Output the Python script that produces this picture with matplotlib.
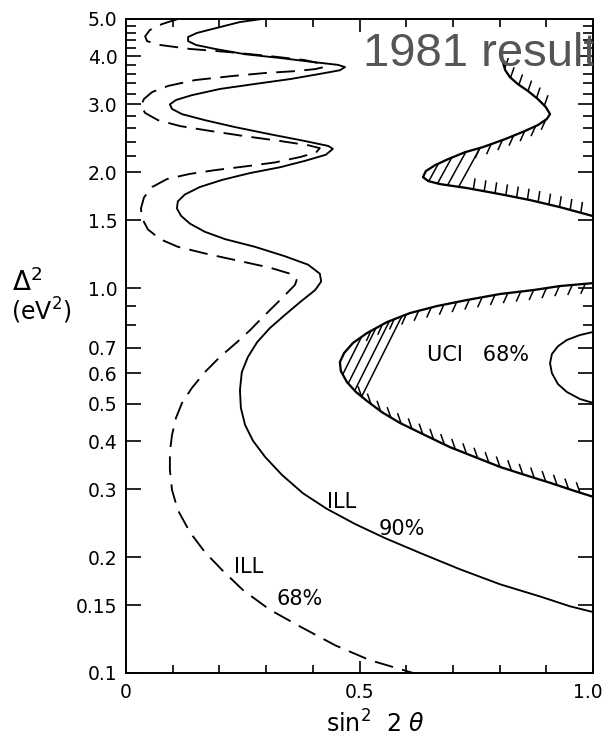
import matplotlib.pyplot as plt
import numpy as np
from matplotlib.path import Path
from matplotlib.patches import PathPatch
from matplotlib.ticker import FixedLocator, NullFormatter
from matplotlib.transforms import offset_copy

# ILL 90% contour (solid)
ill90_x = [0.291, 0.244, 0.191, 0.152, 0.133, 0.133, 0.150, 0.191, 0.255, 0.330,
           0.405, 0.454, 0.469, 0.458, 0.415, 0.351, 0.276, 0.201, 0.141, 0.107,
           0.094, 0.0985, 0.120, 0.169, 0.233, 0.308, 0.383, 0.433, 0.443, 0.428,
           0.383, 0.330, 0.266, 0.206, 0.158, 0.126, 0.111, 0.109, 0.118, 0.137,
           0.169, 0.212, 0.276, 0.340, 0.390, 0.415, 0.418, 0.405, 0.373, 0.340,
           0.308, 0.281, 0.261, 0.248, 0.244, 0.246, 0.255, 0.272, 0.298, 0.334,
           0.379, 0.430, 0.490, 0.555, 0.630, 0.715, 0.801, 0.887, 0.951, 1.0]
ill90_y = [5.0, 4.91, 4.73, 4.60, 4.49, 4.38, 4.28, 4.18, 4.05, 3.96,
           3.86, 3.80, 3.75, 3.68, 3.60, 3.49, 3.39, 3.29, 3.17, 3.08,
           3.00, 2.92, 2.83, 2.73, 2.62, 2.51, 2.41, 2.34, 2.30, 2.22,
           2.14, 2.06, 1.99, 1.91, 1.83, 1.75, 1.68, 1.61, 1.54, 1.47,
           1.40, 1.34, 1.28, 1.21, 1.15, 1.09, 1.04, 0.988, 0.920, 0.851,
           0.787, 0.724, 0.662, 0.605, 0.543, 0.488, 0.441, 0.401, 0.364, 0.327,
           0.293, 0.267, 0.244, 0.224, 0.205, 0.186, 0.170, 0.158, 0.149, 0.144]

# ILL 68% contour (dashed)
ill68_x = [0.111, 0.077, 0.051, 0.041, 0.045, 0.073, 0.137, 0.223, 0.308, 0.383,
           0.420, 0.424, 0.405, 0.362, 0.298, 0.223, 0.148, 0.090, 0.056, 0.0385,
           0.032, 0.041, 0.0685, 0.116, 0.180, 0.255, 0.330, 0.390, 0.415, 0.407,
           0.373, 0.319, 0.255, 0.191, 0.137, 0.088, 0.056, 0.0385, 0.032, 0.034,
           0.047, 0.073, 0.111, 0.169, 0.244, 0.308, 0.351, 0.366, 0.362, 0.345,
           0.319, 0.291, 0.266, 0.238, 0.201, 0.169, 0.141, 0.120, 0.107, 0.0985,
           0.094, 0.094, 0.0985, 0.111, 0.137, 0.169, 0.206, 0.251, 0.308, 0.373,
           0.448, 0.522, 0.615]
ill68_y = [5.0, 4.85, 4.68, 4.51, 4.38, 4.28, 4.18, 4.10, 4.005, 3.91,
           3.82, 3.75, 3.705, 3.66, 3.62, 3.55, 3.47, 3.35, 3.23, 3.10,
           2.97, 2.85, 2.73, 2.635, 2.56, 2.48, 2.41, 2.35, 2.31, 2.25,
           2.19, 2.12, 2.07, 2.025, 1.98, 1.92, 1.83, 1.72, 1.61, 1.52,
           1.42, 1.34, 1.28, 1.23, 1.175, 1.13, 1.09, 1.055, 1.02, 0.971,
           0.903, 0.836, 0.778, 0.724, 0.662, 0.605, 0.550, 0.503, 0.460, 0.415,
           0.375, 0.337, 0.299, 0.265, 0.232, 0.206, 0.185, 0.164, 0.146, 0.132,
           0.118, 0.108, 0.1]

# UCI excluded region, lower island (hatched boundary)
uci_low_x = [1.0, 0.929, 0.872, 0.801, 0.730, 0.666, 0.608, 0.559, 0.516, 0.486,
             0.467, 0.458, 0.460, 0.473, 0.4925, 0.516, 0.548, 0.587, 0.640, 0.694,
             0.747, 0.801, 0.854, 0.908, 0.961, 1.0]
uci_low_y = [1.030, 1.012, 0.988, 0.965, 0.931, 0.898, 0.861, 0.816, 0.764, 0.720,
             0.678, 0.642, 0.609, 0.570, 0.537, 0.509, 0.476, 0.446, 0.415, 0.386,
             0.364, 0.343, 0.327, 0.312, 0.297, 0.287]
LOW_TIP = 11

# UCI 68% allowed region
uci68_x = [1.0, 0.972, 0.944, 0.925, 0.912, 0.908, 0.912, 0.925, 0.944, 0.972, 1.0]
uci68_y = [0.769, 0.755, 0.733, 0.706, 0.674, 0.638, 0.601, 0.563, 0.537, 0.515, 0.503]

# UCI excluded region, upper band (hatched boundary)
uci_up_x = [0.807, 0.812, 0.822, 0.839, 0.861, 0.882, 0.899, 0.908, 0.901, 0.882,
            0.854, 0.812, 0.764, 0.726, 0.690, 0.662, 0.642, 0.636, 0.647, 0.672,
            0.730, 0.801, 0.865, 0.929, 1.0]
uci_up_y = [3.864, 3.683, 3.532, 3.388, 3.249, 3.097, 2.952, 2.830, 2.748, 2.651,
            2.558, 2.438, 2.323, 2.254, 2.163, 2.086, 2.013, 1.942, 1.897, 1.863,
            1.819, 1.754, 1.693, 1.623, 1.538]
UP_RTIP, UP_LTIP = 7, 17

ytick_vals = [0.1, 0.15, 0.2, 0.3, 0.4, 0.5, 0.6, 0.7, 1.0, 1.5, 2.0, 3.0, 4.0, 5.0]
ytick_labels = ['0.1', '0.15', '0.2', '0.3', '0.4', '0.5', '0.6', '0.7', '1.0',
                '1.5', '2.0', '3.0', '4.0', '5.0']
yminor_vals = [0.8, 0.9, 2.2, 2.4, 2.6, 2.8, 3.2, 3.4, 3.6, 3.8, 4.2, 4.4, 4.6, 4.8]
xtick_vals = [0.0, 0.5, 1.0]
xtick_labels = ['0', '0.5', '1.0']
xminor_vals = [0.1, 0.2, 0.3, 0.4, 0.6, 0.7, 0.8, 0.9]

LW = 1.35
plt.rcParams['font.family'] = 'DejaVu Sans'

fig = plt.figure(figsize=(6.06, 7.44), dpi=100)
W, H = 606.0, 744.0
ax = fig.add_axes([126 / W, 1 - 673 / H, (593 - 126) / W, (673 - 19) / H])
ax.set_yscale('log')
ax.set_xlim(0, 1)
ax.set_ylim(0.1, 5.0)

ax.yaxis.set_major_locator(FixedLocator(ytick_vals))
ax.yaxis.set_minor_locator(FixedLocator(yminor_vals))
ax.yaxis.set_minor_formatter(NullFormatter())
ax.set_yticklabels(ytick_labels)
ax.xaxis.set_major_locator(FixedLocator(xtick_vals))
ax.xaxis.set_minor_locator(FixedLocator(xminor_vals))
ax.set_xticklabels(xtick_labels)

ax.tick_params(axis='both', which='both', direction='in', top=True, right=True,
               width=1.2, colors='black', labelsize=13.5)
ax.tick_params(axis='y', which='major', length=11, pad=6)
ax.tick_params(axis='y', which='minor', length=7)
ax.tick_params(axis='x', which='major', length=9, pad=7)
ax.tick_params(axis='x', which='minor', length=6)
for sp in ax.spines.values():
    sp.set_linewidth(1.4)

# keep the "1.0" label inside the figure
last = ax.get_xticklabels()[-1]
last.set_transform(offset_copy(last.get_transform(), fig=fig, x=-5, units='dots'))

ax.plot(ill90_x, ill90_y, color='black', lw=LW, solid_joinstyle='round')
ax.plot(ill68_x, ill68_y, color='black', lw=LW, dashes=(10, 5))
ax.plot(uci68_x, uci68_y, color='black', lw=LW, solid_joinstyle='round')
ax.plot(uci_low_x, uci_low_y, color='black', lw=LW + 0.3, solid_joinstyle='round')
ax.plot(uci_up_x, uci_up_y, color='black', lw=LW + 0.3, solid_joinstyle='round')


def ticks_along(xs, ys, direction, spacing=12.0, length=11.0):
    # short hatch strokes hanging off a curve, fixed slant in pixel space
    pts = ax.transData.transform(np.column_stack([xs, ys]))
    seg = np.diff(pts, axis=0)
    s = np.concatenate([[0], np.cumsum(np.hypot(seg[:, 0], seg[:, 1]))])
    pos = np.arange(spacing * 0.6, s[-1] - spacing * 0.3, spacing)
    px = np.interp(pos, s, pts[:, 0])
    py = np.interp(pos, s, pts[:, 1])
    d = np.array(direction, float)
    d = d / np.hypot(*d) * length
    inv = ax.transData.inverted()
    for x0, y0 in zip(px, py):
        a = inv.transform([[x0, y0], [x0 + d[0], y0 + d[1]]])
        ax.plot(a[:, 0], a[:, 1], color='black', lw=1.1, solid_capstyle='butt')


def tip_fill(xs, ys, tip, offsets, direction):
    # long strokes across the narrow end of a hatched region
    verts = list(zip(xs, ys)) + [(xs[0], ys[0])]
    clip = PathPatch(Path(verts), transform=ax.transData, facecolor='none',
                     edgecolor='none')
    ax.add_patch(clip)
    t = ax.transData.transform([(xs[tip], ys[tip])])[0]
    d = np.array(direction, float)
    d = d / np.hypot(*d)
    inv = ax.transData.inverted()
    for off in offsets:
        c = t + np.array([off, 0.0])
        a = inv.transform([c - 80 * d, c + 80 * d])
        ln, = ax.plot(a[:, 0], a[:, 1], color='black', lw=1.1)
        ln.set_clip_path(clip)


# lower UCI island: strokes on the inner side of the boundary
ticks_along(uci_low_x[:LOW_TIP - 2], uci_low_y[:LOW_TIP - 2], (-0.45, -1.0), spacing=13)
ticks_along(uci_low_x[LOW_TIP + 3:], uci_low_y[LOW_TIP + 3:], (-0.35, 1.0), spacing=12)
tip_fill(uci_low_x, uci_low_y, LOW_TIP, [9, 19, 29, 39], (0.5, 1.0))

# upper UCI band: strokes always on the side facing the right frame
ticks_along(uci_up_x[:UP_RTIP + 1], uci_up_y[:UP_RTIP + 1], (0.35, 1.0), spacing=11)
ticks_along(uci_up_x[UP_RTIP:UP_LTIP - 3], uci_up_y[UP_RTIP:UP_LTIP - 3], (-0.45, -1.0),
            spacing=12)
ticks_along(uci_up_x[UP_LTIP + 3:], uci_up_y[UP_LTIP + 3:], (0.15, 1.0), spacing=11)
rt = UP_RTIP
tip_fill(uci_up_x[rt:] + [1.0], uci_up_y[rt:] + [uci_up_y[rt]], UP_LTIP - rt,
         [8, 18, 29, 41], (0.55, 1.0))

# contour labels
ax.text(0.431, 0.268, 'ILL', fontsize=15)
ax.text(0.54, 0.228, '90%', fontsize=15)
ax.text(0.232, 0.182, 'ILL', fontsize=15)
ax.text(0.323, 0.150, '68%', fontsize=15)
ax.text(0.645, 0.67, 'UCI   68%', fontsize=15, va='center')

ax.text(0.5075, 3.77, '1981 result', fontsize=34, color='#555555',
        family='Liberation Sans', va='baseline', clip_on=True)

fig.text(12 / W, 1 - 291 / H, r'$\Delta^2$', fontsize=19, va='baseline')
fig.text(11 / W, 1 - 311 / H, r'(eV$^2$)', fontsize=17, va='center')
fig.text(375 / W, 1 - 724 / H, r'sin$^2$  2 $\theta$', fontsize=17, ha='center',
         va='center')

fig.savefig('out.png', dpi=100)
